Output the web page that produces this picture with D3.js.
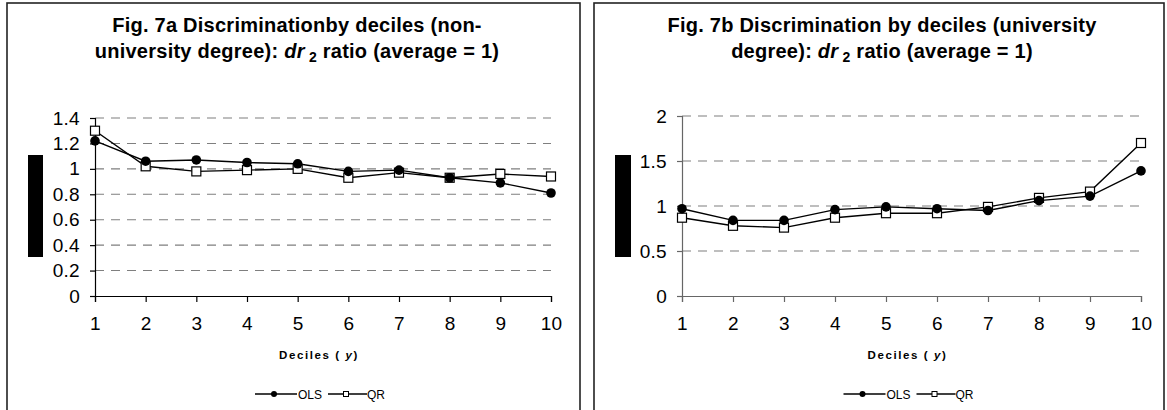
<!DOCTYPE html>
<html><head><meta charset="utf-8">
<script src="https://cdn.jsdelivr.net/npm/d3@7"></script>
<style>
body{margin:0;background:#fff;}
svg{display:block;}
text{font-family:"Liberation Sans",Arial,sans-serif;fill:#000;}
</style></head>
<body>
<svg id="chart" width="1167" height="410"></svg>
<script>
const deciles = [1,2,3,4,5,6,7,8,9,10];
const seriesNames = ["OLS","QR"];
// Fig. 7a (non-university degree)
const olsA = [1.22,1.06,1.07,1.05,1.04,0.98,0.99,0.93,0.89,0.81];
const qrA  = [1.30,1.02,0.98,0.99,1.00,0.93,0.97,0.93,0.96,0.94];
const yTicksA = [0,0.2,0.4,0.6,0.8,1,1.2,1.4];
// Fig. 7b (university degree)
const olsB = [0.97,0.84,0.84,0.96,0.99,0.97,0.95,1.06,1.11,1.39];
const qrB  = [0.87,0.78,0.76,0.87,0.92,0.92,0.99,1.09,1.16,1.70];
const yTicksB = [0,0.5,1,1.5,2];
const titleA1 = "Fig. 7a Discriminationby deciles (non-";
const titleA2 = "university degree): ";
const titleB1 = "Fig. 7b Discrimination by deciles (university";
const titleB2 = "degree): ";
const xTitle = "Deciles";

const svg = d3.select("#chart");

function panel(cfg){
  const g = svg.append("g");
  g.append("rect").attr("x",cfg.bx0).attr("y",3).attr("width",cfg.bx1-cfg.bx0).attr("height",420)
    .attr("fill","#fff").attr("stroke","#222").attr("stroke-width",1.6);
  const x = d3.scaleLinear().domain([1,10]).range([cfg.px0,cfg.px1]);
  const y = d3.scaleLinear().domain([0,cfg.ymax]).range([296,cfg.ytop]);
  const cx = (cfg.px0+cfg.px1)/2;
  const tcx = cfg.tcx;
  g.append("text").attr("x",tcx).attr("y",32).attr("text-anchor","middle")
    .style("font-size","20px").style("font-weight","bold").style("letter-spacing","0.25px").text(cfg.t1);
  const t2 = g.append("text").attr("x",tcx).attr("y",58).attr("text-anchor","middle")
    .style("font-size","20px").style("font-weight","bold").style("letter-spacing","0.25px");
  t2.append("tspan").text(cfg.t2);
  t2.append("tspan").style("font-style","italic").text("dr");
  t2.append("tspan").attr("dy",4).style("font-size","14px").text(" 2");
  t2.append("tspan").attr("dy",-4).text(" ratio (average = 1)");
  g.append("rect").attr("x",cfg.barX).attr("y",155).attr("width",cfg.barW).attr("height",102).attr("fill","#000");
  g.append("g").selectAll("line").data(cfg.yticks.filter(d=>d>0)).join("line")
    .attr("x1",cfg.px0).attr("x2",cfg.px1).attr("y1",d=>y(d)).attr("y2",d=>y(d))
    .attr("stroke","#7f7f7f").attr("stroke-width",1.1).attr("stroke-dasharray","9,7");
  const ya = g.append("g").attr("transform",`translate(${cfg.px0},0)`)
    .call(d3.axisLeft(y).tickValues(cfg.yticks).tickFormat(d=>String(d)).tickSize(5).tickPadding(10));
  const xa = g.append("g").attr("transform","translate(0,296)")
    .call(d3.axisBottom(x).tickValues(deciles).tickFormat(d=>String(d)).tickSize(6).tickPadding(15));
  [ya,xa].forEach(a=>{
    a.select(".domain").attr("stroke",cfg.axisColor).attr("stroke-width",1.2);
    a.selectAll(".tick line").attr("stroke",cfg.axisColor).attr("stroke-width",1.2);
    a.selectAll("text").style("font-size","19px").style("letter-spacing","0.3px")
      .style("font-family","'Liberation Sans',Arial,sans-serif").attr("fill","#000");
  });
  const xt = g.append("text").attr("x",cx-4).attr("y",359).attr("text-anchor","middle")
    .style("font-size","11.5px").style("font-weight","bold").style("letter-spacing","1.6px");
  xt.append("tspan").text(xTitle+" ( ");
  xt.append("tspan").style("font-style","italic").text("y");
  xt.append("tspan").text(")");
  const line = d3.line().x((d,i)=>x(deciles[i])).y(d=>y(d));
  const series = [cfg.ols, cfg.qr];
  g.append("g").selectAll("path").data(series).join("path")
    .attr("d",line).attr("fill","none").attr("stroke","#000").attr("stroke-width",1.4);
  g.append("g").selectAll("rect").data(cfg.qr).join("rect")
    .attr("x",(d,i)=>x(deciles[i])-4.5).attr("y",d=>y(d)-4.5).attr("width",9).attr("height",9)
    .attr("fill","#fff").attr("stroke","#000").attr("stroke-width",1.2);
  g.append("g").selectAll("circle").data(cfg.ols).join("circle")
    .attr("cx",(d,i)=>x(deciles[i])).attr("cy",d=>y(d)).attr("r",4.8).attr("fill","#000");
  const lx = cx-2-66, ly = 394;
  const lg = g.append("g").attr("transform",`translate(${lx},${ly})`);
  lg.append("line").attr("x1",0).attr("x2",42).attr("y1",0).attr("y2",0).attr("stroke","#000").attr("stroke-width",1.4);
  lg.append("circle").attr("cx",19).attr("cy",0).attr("r",3).attr("fill","#000");
  lg.append("text").attr("x",43).attr("y",4.5).style("font-size",'12px').text(seriesNames[0]);
  lg.append("line").attr("x1",73).attr("x2",112).attr("y1",0).attr("y2",0).attr("stroke","#000").attr("stroke-width",1.4);
  lg.append("rect").attr("x",88.5).attr("y",-2.5).attr("width",5).attr("height",5).attr("fill","#fff").attr("stroke","#000").attr("stroke-width",1);
  lg.append("text").attr("x",112).attr("y",4.5).style("font-size",'12px').text(seriesNames[1]);
}

panel({bx0:7,bx1:580,px0:95,px1:551,ymax:1.4,ytop:118,yticks:yTicksA,ols:olsA,qr:qrA,
  t1:titleA1,t2:titleA2,tcx:297,barX:28,barW:15,axisColor:"#000"});
panel({bx0:594,bx1:1164,px0:682,px1:1141,ymax:2,ytop:116,yticks:yTicksB,ols:olsB,qr:qrB,
  t1:titleB1,t2:titleB2,tcx:882,barX:615,barW:16,axisColor:"#666"});
</script>
</body></html>
